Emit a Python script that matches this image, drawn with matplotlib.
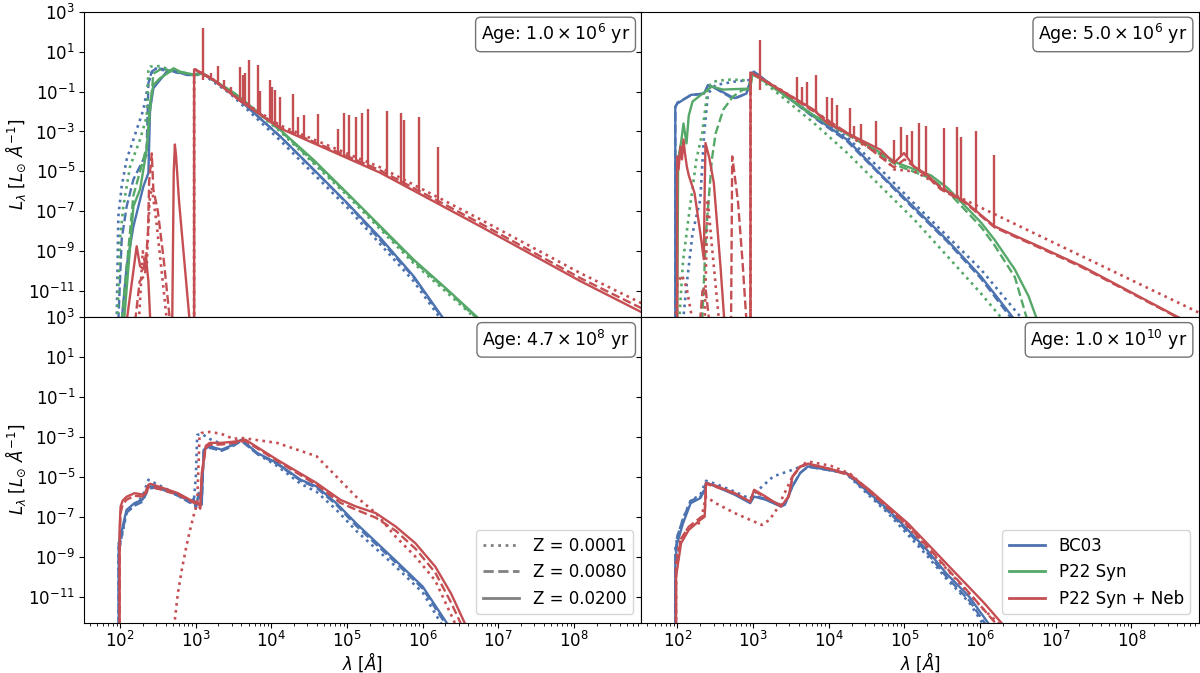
import numpy as np
import matplotlib
matplotlib.use("Agg")
import matplotlib.pyplot as plt
from matplotlib.lines import Line2D
from matplotlib.ticker import FixedLocator, FuncFormatter, LogLocator, NullLocator

# all spectra stored as log10(lambda / AA) and log10(L_lambda / (Lsun/AA))

# ---- age 1.0e6 yr ----
A1_BC_SOL_X = [2.022, 2.088, 2.177, 2.309, 2.375, 2.397, 2.441, 2.529, 2.617, 2.706, 2.882, 2.970, 3.058, 3.200, 3.455, 3.676, 4.117, 4.558, 5.000, 5.440, 5.880, 6.260]
A1_BC_SOL_Y = [-12.5, -9.75, -7.75, -5.75, -5.08, -1.92, -0.83, -0.42, 0.00, 0.05, -0.17, -0.17, -0.05, -0.35, -1.00, -1.75, -3.25, -4.90, -6.58, -8.33, -10.25, -12.3]
A1_BC_DSH_X = [1.978, 2.022, 2.088, 2.177, 2.309, 2.350, 2.375, 2.419, 2.485, 2.617, 2.800, 2.970, 3.100, 3.455, 4.117, 5.000, 5.880, 6.250]
A1_BC_DSH_Y = [-12.5, -8.40, -6.75, -5.40, -4.40, -4.20, -0.58, 0.00, 0.17, 0.10, -0.10, -0.15, -0.10, -1.00, -3.25, -6.60, -10.3, -12.3]
A1_BC_DOT_X = [1.956, 1.978, 2.022, 2.088, 2.177, 2.309, 2.375, 2.441, 2.529, 2.700, 2.970, 3.100, 3.455, 4.117, 5.000, 5.880, 6.220]
A1_BC_DOT_Y = [-12.5, -7.25, -5.75, -4.40, -3.40, -1.90, -0.58, 0.17, 0.10, 0.00, -0.17, -0.15, -1.10, -3.45, -6.80, -10.5, -12.3]

A1_SY_SOL_X = [2.053, 2.177, 2.265, 2.353, 2.397, 2.441, 2.529, 2.662, 2.706, 2.790, 2.970, 3.100, 3.500, 4.117, 4.558, 5.000, 5.440, 5.880, 6.320, 6.720]
A1_SY_SOL_Y = [-12.5, -6.75, -5.90, -3.90, -1.58, -0.67, -0.33, 0.00, 0.17, 0.00, -0.15, -0.10, -1.05, -2.92, -4.42, -6.08, -7.75, -9.42, -10.9, -12.3]
A1_SY_DSH_X = [2.022, 2.088, 2.177, 2.309, 2.360, 2.441, 2.529, 2.700, 2.970, 3.100, 3.500, 4.117, 5.000, 5.880, 6.320, 6.700]
A1_SY_DSH_Y = [-12.5, -9.80, -6.20, -4.40, -3.60, -0.10, 0.10, 0.05, -0.15, -0.10, -1.05, -2.95, -6.10, -9.50, -10.95, -12.3]
A1_SY_DOT_X = [1.965, 2.000, 2.044, 2.133, 2.265, 2.353, 2.375, 2.397, 2.529, 2.617, 2.800, 2.970, 3.100, 3.500, 4.117, 5.000, 5.880, 6.300, 6.680]
A1_SY_DOT_Y = [-12.5, -8.40, -6.75, -4.75, -3.40, -2.25, 0.17, 0.25, 0.28, 0.15, -0.05, -0.15, -0.12, -1.08, -3.00, -6.20, -9.60, -11.0, -12.3]

A1_NB_SOL_X = [2.088, 2.220, 2.265, 2.310, 2.340, 2.375, 2.400, 2.690, 2.710, 2.725, 2.740, 2.780, 2.850, 2.920, 2.979, 2.979, 3.000, 3.235, 3.600, 4.120, 5.440, 6.760, 8.085, 8.890]
A1_NB_SOL_Y = [-12.5, -8.75, -9.75, -9.90, -9.20, -10.5, -12.5, -12.5, -5.00, -3.65, -4.20, -6.50, -9.50, -12.5, -12.5, 0.08, 0.10, -0.42, -1.50, -2.85, -5.07, -7.75, -10.5, -12.05]
A1_NB_DSH_X = [2.200, 2.260, 2.330, 2.370, 2.385, 2.420, 2.440, 2.500, 2.580, 2.660, 2.979, 2.979, 3.000, 3.235, 3.600, 4.120, 5.440, 6.760, 8.085, 8.890]
A1_NB_DSH_Y = [-12.5, -10.5, -10.2, -8.00, -5.50, -4.10, -5.90, -7.00, -9.50, -12.5, -12.5, 0.05, 0.08, -0.42, -1.48, -2.80, -4.95, -7.60, -10.35, -11.85]
A1_NB_DOT_X = [2.250, 2.300, 2.350, 2.390, 2.420, 2.480, 2.550, 2.620, 2.979, 2.979, 3.000, 3.235, 3.600, 4.120, 5.440, 6.760, 8.085, 8.890]
A1_NB_DOT_Y = [-12.5, -9.00, -10.0, -6.50, -5.80, -7.50, -10.0, -12.5, -12.5, 0.10, 0.10, -0.40, -1.45, -2.70, -4.80, -7.40, -10.1, -11.6]

# nebular emission lines: position and peak
A1_LINE_X = [3.103, 3.204, 3.301, 3.380, 3.464, 3.579, 3.623, 3.654, 3.711, 3.830, 3.852, 3.976, 4.007, 4.051, 4.117,
             4.284, 4.346, 4.434, 4.615, 4.875, 4.959, 5.025, 5.118, 5.197, 5.276, 5.528, 5.717, 5.757, 5.947, 6.198]
A1_LINE_TOP = [2.17, -0.08, 0.28, -0.42, -0.75, 0.25, -0.17, -0.05, 0.58, 0.33, -0.95, -0.42, -0.78, -0.92, -1.25,
               -1.12, -2.28, -2.17, -2.12, -2.88, -2.08, -2.17, -2.25, -2.08, -1.88, -1.97, -2.05, -2.45, -2.25, -3.78]

# ---- age 5.0e6 yr ----
A2_BC_X = [1.972, 1.972, 2.000, 2.175, 2.353, 2.404, 2.505, 2.709, 2.759, 2.912, 2.962, 2.990, 3.010, 3.804, 4.245, 4.686, 5.126, 5.567, 6.008, 6.430]
A2_BC_SOL_Y = [-12.5, -1.75, -1.60, -1.17, -1.10, -0.67, -0.83, -1.25, -1.33, -1.10, -0.50, -0.08, 0.00, -2.25, -3.42, -5.15, -6.80, -8.45, -10.25, -12.3]
A2_BC_DSH_Y = [-12.5, -1.80, -1.55, -1.20, -1.10, -0.70, -0.85, -1.30, -1.35, -1.10, -0.50, -0.10, 0.00, -2.30, -3.50, -5.20, -6.88, -8.52, -10.35, -12.45]
A2_BC_DOT_X = [2.074, 2.124, 2.200, 2.302, 2.353, 2.404, 2.505, 2.759, 2.962, 3.010, 3.804, 4.245, 4.686, 5.126, 5.567, 6.008, 6.537]
A2_BC_DOT_Y = [-12.5, -10.6, -8.10, -6.40, -3.10, -1.10, -0.67, -0.50, -0.42, -0.05, -2.20, -3.30, -4.90, -6.60, -8.25, -9.90, -12.3]

A2_SY_SOL_X = [1.997, 2.010, 2.050, 2.080, 2.120, 2.150, 2.200, 2.300, 2.455, 2.600, 2.962, 2.990, 3.200, 3.804, 4.245, 4.465, 4.906, 5.350, 5.570, 6.017, 6.190, 6.460, 6.640, 6.750]
A2_SY_SOL_Y = [-12.5, -4.40, -3.50, -2.60, -3.60, -2.20, -1.50, -1.20, -0.75, -0.90, -0.85, -0.10, -0.60, -2.20, -3.08, -3.58, -4.58, -5.20, -5.83, -7.58, -8.42, -9.92, -11.25, -12.4]
A2_SY_DSH_X = [2.327, 2.378, 2.455, 2.505, 2.607, 2.734, 2.861, 2.962, 2.990, 3.200, 3.804, 4.245, 4.465, 4.906, 5.350, 5.570, 6.017, 6.190, 6.460, 6.620]
A2_SY_DSH_Y = [-12.5, -8.10, -4.40, -3.10, -1.90, -1.25, -0.92, -0.85, -0.10, -0.62, -2.25, -3.15, -3.65, -4.70, -5.35, -6.00, -7.80, -8.70, -10.3, -12.4]
A2_SY_DOT_X = [2.023, 2.074, 2.150, 2.251, 2.327, 2.404, 2.480, 2.658, 2.861, 2.962, 2.990, 3.200, 3.804, 4.245, 4.686, 5.126, 5.567, 6.008, 6.273]
A2_SY_DOT_Y = [-12.5, -9.50, -7.25, -4.40, -3.10, -0.75, -0.50, -0.40, -0.42, -0.58, -0.10, -0.70, -2.58, -4.08, -5.75, -7.40, -9.25, -11.1, -12.3]

A2_NB_SOL_X = [1.997, 1.997, 2.015, 2.040, 2.060, 2.080, 2.100, 2.124, 2.150, 2.226, 2.302, 2.349, 2.360, 2.371, 2.420, 2.481, 2.569, 2.620,
               2.966, 2.966, 3.000, 3.363, 3.804, 3.980, 4.421, 4.686, 4.862, 4.994, 5.126, 5.300, 5.480, 5.795, 6.190, 6.449, 6.802, 7.345, 8.600, 8.900]
A2_NB_SOL_Y = [-12.5, -4.25, -4.90, -3.75, -4.40, -3.40, -4.10, -4.75, -5.20, -6.08, -8.08, -9.40, -6.00, -3.58, -4.30, -5.58, -9.75, -12.5,
               -12.5, -0.08, -0.10, -0.92, -1.92, -2.58, -3.42, -3.92, -4.58, -4.08, -4.75, -5.17, -5.83, -6.50, -7.75, -8.20, -8.80, -9.75, -12.27, -12.8]
A2_NB_DSH_X = [2.300, 2.330, 2.370, 2.420, 2.709, 2.724, 2.740, 2.800, 2.860, 2.912, 2.966, 2.966, 3.000, 3.363, 3.804, 4.421, 4.862, 5.000,
               5.300, 5.480, 5.795, 6.190, 6.449, 6.802, 7.345, 8.600, 8.900]
A2_NB_DSH_Y = [-12.5, -11.0, -10.8, -12.5, -12.5, -4.25, -4.70, -6.50, -9.50, -12.5, -12.5, -0.10, -0.12, -0.95, -2.00, -3.50, -4.80, -4.40,
               -5.25, -5.90, -6.55, -7.80, -8.25, -8.85, -9.80, -12.3, -12.8]
A2_NB_DOT_X = [1.980, 2.000, 2.060, 2.120, 2.200, 2.360, 2.400, 2.450, 2.550, 2.966, 2.966, 3.000, 3.363, 3.804, 4.421, 4.686, 4.862, 5.126,
               5.281, 5.567, 5.795, 7.345, 8.905]
A2_NB_DOT_Y = [-12.5, -10.6, -10.2, -10.8, -12.5, -12.5, -6.40, -8.50, -12.5, -12.5, -0.05, -0.10, -0.90, -1.95, -3.60, -4.10, -4.90, -5.00,
               -5.30, -6.00, -6.42, -9.25, -12.1]

A2_LINE_X = [3.089, 3.583, 3.649, 3.707, 3.826, 3.980, 4.046, 4.112, 4.280, 4.333, 4.421, 4.619, 4.862, 4.950, 5.029, 5.104,
             5.193, 5.281, 5.523, 5.700, 5.752, 5.942, 6.185]
A2_LINE_TOP = [1.58, -0.28, -0.75, -0.50, -0.17, -1.25, -1.33, -1.67, -1.83, -2.72, -2.62, -2.50, -3.42, -2.78, -3.17, -3.00,
               -2.58, -2.75, -2.83, -2.78, -3.28, -2.97, -4.17]

# ---- age 4.7e8 yr ----
A3_BC_X = [1.982, 1.982, 2.034, 2.086, 2.191, 2.296, 2.374, 2.453, 2.609, 2.766, 2.923, 2.976, 3.002, 3.040, 3.080, 3.106, 3.185, 3.342,
           3.499, 3.603, 3.812, 4.074, 4.388, 4.597, 4.858, 5.120, 5.643, 6.000, 6.323]
A3_BC_SOL_Y = [-12.5, -8.33, -7.50, -6.66, -6.32, -6.15, -5.48, -5.48, -5.65, -5.90, -6.24, -6.10, -6.60, -5.80, -6.30, -3.64, -3.47, -3.64,
               -3.39, -3.14, -3.80, -4.31, -5.15, -5.48, -6.32, -7.33, -9.20, -10.5, -12.35]
A3_BC_DSH_Y = [-12.5, -8.90, -7.70, -6.80, -6.45, -6.25, -5.60, -5.55, -5.70, -5.95, -6.30, -6.15, -6.50, -5.90, -6.40, -3.70, -3.55, -3.70,
               -3.45, -3.20, -3.85, -4.35, -5.20, -5.55, -6.40, -7.45, -9.30, -10.6, -12.5]
A3_BC_DOT_X = [1.982, 1.982, 2.034, 2.086, 2.191, 2.296, 2.374, 2.453, 2.609, 2.766, 2.923, 2.976, 3.002, 3.020, 3.080, 3.185, 3.342,
               3.499, 3.603, 3.812, 4.074, 4.388, 4.597, 4.858, 5.120, 5.643, 6.000, 6.244]
A3_BC_DOT_Y = [-12.5, -8.60, -7.80, -6.80, -6.40, -6.00, -5.15, -5.30, -5.60, -5.90, -6.30, -6.20, -5.00, -2.90, -2.85, -3.10, -3.35,
               -3.30, -3.10, -3.85, -4.45, -5.35, -5.75, -6.65, -7.70, -9.50, -10.8, -12.35]

A3_NB_X = [1.995, 1.995, 2.008, 2.034, 2.086, 2.191, 2.322, 2.374, 2.400, 2.505, 2.766, 2.923, 3.028, 3.060, 3.080, 3.133, 3.185, 3.342,
           3.551, 3.656, 4.074, 4.597, 4.911, 5.120, 5.381, 5.643, 5.904, 6.166, 6.375, 6.558]
A3_NB_SOL_Y = [-12.5, -7.50, -6.49, -6.20, -6.00, -5.82, -5.90, -5.40, -5.35, -5.48, -5.82, -6.15, -6.32, -6.50, -4.81, -3.45, -3.30, -3.30,
               -3.22, -3.14, -4.14, -5.31, -6.15, -6.49, -6.82, -7.49, -8.33, -9.50, -10.85, -12.35]
A3_NB_DSH_Y = [-12.5, -8.00, -6.80, -6.40, -6.15, -5.95, -6.00, -5.55, -5.50, -5.60, -5.90, -6.20, -6.40, -6.60, -5.00, -3.55, -3.40, -3.38,
               -3.28, -3.20, -4.20, -5.40, -6.30, -6.65, -7.05, -7.70, -8.60, -9.80, -11.3, -12.8]
A3_NB_DOT_X = [2.714, 2.766, 2.819, 2.871, 2.923, 2.976, 3.020, 3.050, 3.080, 3.185, 3.342, 3.499, 3.603, 4.074, 4.597, 4.858, 5.120,
               5.381, 5.643, 5.904, 6.166, 6.428]
A3_NB_DOT_Y = [-12.5, -10.8, -9.60, -8.60, -7.70, -6.90, -6.30, -3.00, -2.80, -2.75, -2.85, -3.10, -3.05, -3.30, -3.97, -4.98, -6.00,
               -6.82, -8.00, -9.00, -10.2, -12.35]

# ---- age 1.0e10 yr ----
A4_BC_X = [1.972, 1.972, 1.997, 2.074, 2.175, 2.302, 2.363, 2.378, 2.505, 2.759, 2.962, 3.013, 3.166, 3.369, 3.420, 3.521, 3.623, 3.724,
           3.927, 4.232, 4.334, 4.537, 4.790, 5.045, 5.299, 5.553, 5.857, 6.111]
A4_BC_SOL_Y = [-12.5, -9.34, -8.33, -7.33, -6.32, -6.07, -5.65, -5.31, -5.48, -5.90, -6.32, -5.99, -6.15, -6.49, -6.40, -5.48, -4.81, -4.48,
               -4.61, -4.81, -5.15, -5.82, -6.66, -7.66, -8.67, -9.84, -11.01, -12.35]
A4_BC_DSH_Y = [-12.5, -8.90, -8.00, -7.10, -6.20, -6.00, -5.60, -5.30, -5.45, -5.85, -6.25, -5.95, -6.10, -6.40, -6.35, -5.45, -4.80, -4.50,
               -4.62, -4.83, -5.18, -5.88, -6.75, -7.75, -8.80, -10.0, -11.2, -12.6]
A4_BC_DOT_X = [1.972, 1.972, 2.000, 2.074, 2.175, 2.302, 2.378, 2.505, 2.759, 2.962, 3.013, 3.267, 3.521, 3.724, 3.927, 4.232, 4.537,
               4.790, 5.045, 5.299, 5.553, 5.857, 6.035]
A4_BC_DOT_Y = [-12.5, -8.60, -8.00, -7.10, -6.20, -5.90, -5.20, -5.35, -5.75, -6.10, -5.85, -4.98, -4.65, -4.35, -4.55, -4.85, -5.95,
               -6.85, -7.90, -8.95, -10.1, -11.3, -12.35]

A4_NB_X = [1.982, 1.982, 2.048, 2.150, 2.302, 2.360, 2.378, 2.505, 2.759, 2.962, 3.013, 3.166, 3.369, 3.470, 3.521, 3.623, 3.724, 4.029,
           4.283, 4.537, 4.790, 5.045, 5.299, 5.553, 5.806, 6.060, 6.289]
A4_NB_SOL_Y = [-12.5, -10.0, -8.33, -7.66, -7.16, -7.00, -5.31, -5.45, -5.82, -6.24, -5.65, -5.99, -6.49, -5.99, -4.98, -4.48, -4.34, -4.61,
               -4.90, -5.65, -6.49, -7.33, -8.33, -9.34, -10.34, -11.35, -12.35]
A4_NB_DSH_Y = [-12.5, -9.50, -8.10, -7.50, -7.05, -6.90, -5.35, -5.50, -5.85, -6.25, -5.70, -6.05, -6.45, -6.00, -5.00, -4.50, -4.36, -4.63,
               -4.95, -5.72, -6.58, -7.45, -8.48, -9.55, -10.6, -11.7, -12.7]
A4_NB_DOT_X = [1.982, 1.982, 2.023, 2.150, 2.302, 2.378, 2.505, 2.759, 2.962, 3.115, 3.216, 3.318, 3.521, 3.623, 3.724, 4.029, 4.283,
               4.537, 4.790, 5.045, 5.299, 5.553, 5.806, 6.060, 6.250]
A4_NB_DOT_Y = [-12.5, -9.20, -8.33, -7.50, -7.30, -5.99, -6.32, -6.82, -7.16, -7.41, -7.16, -6.60, -4.98, -4.48, -4.23, -4.45, -4.85,
               -5.70, -6.60, -7.50, -8.55, -9.60, -10.65, -11.7, -12.35]

AGE_MANT = ["1.0", "5.0", "4.7", "1.0"]
AGE_EXP = [6, 6, 8, 10]
Z_LABELS = ["Z = 0.0001", "Z = 0.0080", "Z = 0.0200"]
MODEL_LABELS = ["BC03", "P22 Syn", "P22 Syn + Neb"]

C_BC, C_SY, C_NB = "#4C72B0", "#55A868", "#C44E52"
LS = {"dot": ":", "dsh": "--", "sol": "-"}

# (colour, style, x, y) per panel, drawn in this order
panels = [
    [(C_BC, "dot", A1_BC_DOT_X, A1_BC_DOT_Y), (C_BC, "dsh", A1_BC_DSH_X, A1_BC_DSH_Y), (C_BC, "sol", A1_BC_SOL_X, A1_BC_SOL_Y),
     (C_SY, "dot", A1_SY_DOT_X, A1_SY_DOT_Y), (C_SY, "dsh", A1_SY_DSH_X, A1_SY_DSH_Y), (C_SY, "sol", A1_SY_SOL_X, A1_SY_SOL_Y),
     (C_NB, "dot", A1_NB_DOT_X, A1_NB_DOT_Y), (C_NB, "dsh", A1_NB_DSH_X, A1_NB_DSH_Y), (C_NB, "sol", A1_NB_SOL_X, A1_NB_SOL_Y)],
    [(C_BC, "dot", A2_BC_DOT_X, A2_BC_DOT_Y), (C_BC, "dsh", A2_BC_X, A2_BC_DSH_Y), (C_BC, "sol", A2_BC_X, A2_BC_SOL_Y),
     (C_SY, "dot", A2_SY_DOT_X, A2_SY_DOT_Y), (C_SY, "dsh", A2_SY_DSH_X, A2_SY_DSH_Y), (C_SY, "sol", A2_SY_SOL_X, A2_SY_SOL_Y),
     (C_NB, "dot", A2_NB_DOT_X, A2_NB_DOT_Y), (C_NB, "dsh", A2_NB_DSH_X, A2_NB_DSH_Y), (C_NB, "sol", A2_NB_SOL_X, A2_NB_SOL_Y)],
    [(C_BC, "dot", A3_BC_DOT_X, A3_BC_DOT_Y), (C_BC, "dsh", A3_BC_X, A3_BC_DSH_Y), (C_BC, "sol", A3_BC_X, A3_BC_SOL_Y),
     (C_NB, "dot", A3_NB_DOT_X, A3_NB_DOT_Y), (C_NB, "dsh", A3_NB_X, A3_NB_DSH_Y), (C_NB, "sol", A3_NB_X, A3_NB_SOL_Y)],
    [(C_BC, "dot", A4_BC_DOT_X, A4_BC_DOT_Y), (C_BC, "dsh", A4_BC_X, A4_BC_DSH_Y), (C_BC, "sol", A4_BC_X, A4_BC_SOL_Y),
     (C_NB, "dot", A4_NB_DOT_X, A4_NB_DOT_Y), (C_NB, "dsh", A4_NB_X, A4_NB_DSH_Y), (C_NB, "sol", A4_NB_X, A4_NB_SOL_Y)],
]
lines = [(A1_LINE_X, A1_LINE_TOP, A1_NB_SOL_X, A1_NB_SOL_Y), (A2_LINE_X, A2_LINE_TOP, A2_NB_SOL_X, A2_NB_SOL_Y), None, None]

plt.rcParams["font.family"] = "DejaVu Sans"
plt.rcParams["font.size"] = 12
plt.rcParams["xtick.major.pad"] = 2.5
plt.rcParams["ytick.major.pad"] = 3.0

fig, axes = plt.subplots(2, 2, sharex=True, sharey=True, figsize=(12, 6.73), dpi=100)
fig.subplots_adjust(left=0.07, right=0.999, top=0.9826, bottom=0.075, wspace=0, hspace=0)

for k, ax in enumerate(axes.flat):
    for color, style, x, y in panels[k]:
        lw = 1.9 if style == "dot" else 1.7
        ax.plot(np.power(10.0, x), np.power(10.0, y), color=color, ls=LS[style], lw=lw)
    if lines[k] is not None:
        lx, top, cx, cy = lines[k]
        # lines sit on the nebular continuum
        keep = np.asarray(cx) > 3.0
        base = np.interp(lx, np.asarray(cx)[keep], np.asarray(cy)[keep])
        ax.vlines(np.power(10.0, lx), np.power(10.0, base), np.power(10.0, top), color=C_NB, lw=1.7)
    ax.text(0.98, 0.965, r"Age: $%s\times10^{%d}$ yr" % (AGE_MANT[k], AGE_EXP[k]), transform=ax.transAxes,
            ha="right", va="top", fontsize=12.5,
            bbox=dict(boxstyle="round,pad=0.3", fc="white", ec="0.45", lw=1.0))

ax0 = axes[0, 0]
ax0.set_xscale("log")
ax0.set_yscale("log")
ax0.set_xlim(10 ** 1.524, 10 ** 8.89)
ax0.set_ylim(10 ** -12.3, 1e3)
ax0.yaxis.set_major_locator(FixedLocator([10.0 ** e for e in range(3, -12, -2)]))
ax0.yaxis.set_major_formatter(FuncFormatter(lambda v, p: r"$10^{%d}$" % round(np.log10(v))))
ax0.yaxis.set_minor_locator(NullLocator())
ax0.xaxis.set_major_locator(LogLocator(base=10, numticks=20))
ax0.xaxis.set_minor_locator(LogLocator(base=10, subs=np.arange(2, 10) * 1.0, numticks=200))

for ax in axes[:, 0]:
    ax.set_ylabel(r"$L_{\lambda}$ [$L_{\odot}$ $Å^{-1}$]", labelpad=0)
for ax in axes[1, :]:
    ax.set_xlabel(r"$\lambda$ [$Å$]", labelpad=0)

z_handles = [Line2D([], [], color="0.5", ls=LS[s], lw=2) for s in ("dot", "dsh", "sol")]
axes[1, 0].legend(z_handles, Z_LABELS, loc="lower right", fontsize=12, handlelength=2.2)
m_handles = [Line2D([], [], color=c, lw=2) for c in (C_BC, C_SY, C_NB)]
axes[1, 1].legend(m_handles, MODEL_LABELS, loc="lower right", fontsize=12, handlelength=2.2)

fig.savefig("out.png", dpi=100)
